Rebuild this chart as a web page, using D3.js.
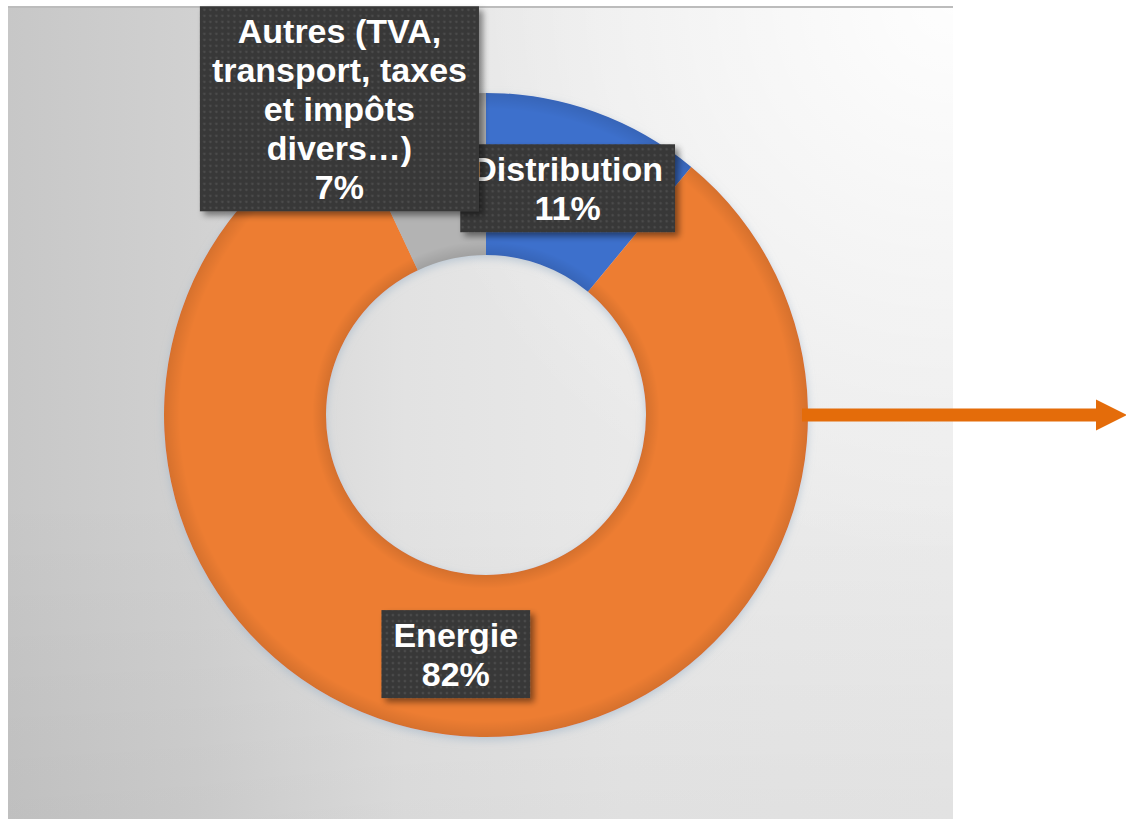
<!DOCTYPE html>
<html>
<head>
<meta charset="utf-8">
<script src="https://cdn.jsdelivr.net/npm/d3@7"></script>
<style>
  html, body { margin: 0; padding: 0; background: #fff; }
  #chart { display: block; }
  .lbl text { font-family: "Liberation Sans", Arial, sans-serif; font-weight: bold; font-size: 34px; fill: #fff; }
</style>
</head>
<body>
<svg id="chart" width="1126" height="819"></svg>
<script>
// data
const categories = ['Distribution', 'Energie', 'Autres'];
const shares = [11, 82, 7];
const labelLines = [
  ['Distribution'],
  ['Energie'],
  ['Autres (TVA,', 'transport, taxes', 'et impôts', 'divers…)']
];
const sliceColors = ['#3d6fcc', '#ed7d31', '#b3b3b3'];

const W = 1126, H = 819;
const cx = 486, cy = 415, rOuter = 322, rInner = 160;
// the "Autres" label was dragged away from its slice
const labelShift = { Autres: [-94, -71] };

const svg = d3.select('#chart');
const defs = svg.append('defs');

// background panel: grey on the left, light on the right, brightest top right
const bg = defs.append('linearGradient').attr('id', 'bgGrad')
  .attr('x1', 0).attr('x2', 1).attr('y1', 0).attr('y2', 0);
[[0, '#c7c7c7'], [0.2, '#d1d1d1'], [0.42, '#e2e2e2'], [0.65, '#e9e9e9'], [1, '#ebebeb']]
  .forEach(([o, c]) => bg.append('stop').attr('offset', o).attr('stop-color', c));
const hi = defs.append('radialGradient').attr('id', 'hiGrad')
  .attr('gradientUnits', 'userSpaceOnUse')
  .attr('cx', 953).attr('cy', 0).attr('r', 560);
hi.append('stop').attr('offset', 0).attr('stop-color', '#fff').attr('stop-opacity', 0.95);
hi.append('stop').attr('offset', 1).attr('stop-color', '#fff').attr('stop-opacity', 0);
const lo = defs.append('linearGradient').attr('id', 'loGrad')
  .attr('x1', 0).attr('x2', 0).attr('y1', 0).attr('y2', 1);
lo.append('stop').attr('offset', 0.6).attr('stop-color', '#000').attr('stop-opacity', 0);
lo.append('stop').attr('offset', 1).attr('stop-color', '#000').attr('stop-opacity', 0.04);

// dotted texture for label boxes
const pat = defs.append('pattern').attr('id', 'dots')
  .attr('width', 6).attr('height', 6).attr('patternUnits', 'userSpaceOnUse');
pat.append('rect').attr('width', 6).attr('height', 6).attr('fill', '#383838');
pat.append('circle').attr('cx', 3).attr('cy', 3).attr('r', 1.3).attr('fill', '#4b4b4b');

const sh = defs.append('filter').attr('id', 'shadow')
  .attr('x', -0.2).attr('y', -0.2).attr('width', 1.5).attr('height', 1.5);
sh.append('feDropShadow').attr('dx', 4).attr('dy', 4).attr('stdDeviation', 3)
  .attr('flood-color', '#000').attr('flood-opacity', 0.45);

const glow = defs.append('filter').attr('id', 'glow')
  .attr('x', -0.1).attr('y', -0.1).attr('width', 1.2).attr('height', 1.2);
glow.append('feDropShadow').attr('dx', 0).attr('dy', 3).attr('stdDeviation', 4)
  .attr('flood-color', '#9fb4c8').attr('flood-opacity', 0.6);

// ring bevel (darker at inner and outer rims)
const bevel = defs.append('radialGradient').attr('id', 'bevel')
  .attr('gradientUnits', 'userSpaceOnUse')
  .attr('cx', 0).attr('cy', 0).attr('r', rOuter);
[[0.49, 0.12], [0.54, 0], [0.95, 0], [1, 0.1]].forEach(([o, a]) =>
  bevel.append('stop').attr('offset', o).attr('stop-color', '#000').attr('stop-opacity', a));

// panel
svg.append('rect').attr('x', 8).attr('y', 6).attr('width', 945).attr('height', H - 6)
  .attr('fill', 'url(#bgGrad)');
svg.append('rect').attr('x', 8).attr('y', 6).attr('width', 945).attr('height', H - 6)
  .attr('fill', 'url(#hiGrad)');
svg.append('rect').attr('x', 8).attr('y', 6).attr('width', 945).attr('height', H - 6)
  .attr('fill', 'url(#loGrad)');
svg.append('rect').attr('x', 8).attr('y', 6).attr('width', 945).attr('height', 2)
  .attr('fill', '#bcbcbc');

// donut
const color = d3.scaleOrdinal().domain(categories).range(sliceColors);
const pie = d3.pie().sort(null).value(d => d.value);
const arcs = pie(categories.map((c, i) => ({ name: c, value: shares[i], lines: labelLines[i] })));
const arc = d3.arc().innerRadius(rInner).outerRadius(rOuter);

const g = svg.append('g').attr('transform', `translate(${cx},${cy})`);
g.append('g').attr('filter', 'url(#glow)')
  .selectAll('path').data(arcs).join('path')
  .attr('d', arc)
  .attr('fill', d => color(d.data.name));
g.append('path')
  .attr('d', arc({ startAngle: 0, endAngle: 2 * Math.PI }))
  .attr('fill', 'url(#bevel)');

// arrow
defs.append('marker').attr('id', 'head')
  .attr('viewBox', '0 0 10 10').attr('refX', 0).attr('refY', 5)
  .attr('markerWidth', 2.4).attr('markerHeight', 2.7).attr('markerUnits', 'strokeWidth')
  .attr('orient', 'auto')
  .append('path').attr('d', 'M0,0L10,5L0,10Z').attr('fill', '#e46c0a');
svg.append('line')
  .attr('x1', cx + rOuter - 6).attr('x2', 1096).attr('y1', cy).attr('y2', cy)
  .attr('stroke', '#e46c0a').attr('stroke-width', 13)
  .attr('marker-end', 'url(#head)');

// labels, in slice order so "Autres" ends up on top
const lineH = 39, padX = 12, padY = 5;
const labels = svg.append('g');
arcs.forEach(d => {
  const [lx, ly] = arc.centroid(d);
  const shift = labelShift[d.data.name] || [0, 0];
  const x = cx + lx + shift[0], y = cy + ly + shift[1];
  const lines = d.data.lines.concat([d.data.value + '%']);
  const lg = labels.append('g').attr('class', 'lbl').attr('transform', `translate(${x},${y})`);
  const box = lg.append('rect').attr('fill', 'url(#dots)').attr('filter', 'url(#shadow)');
  const h = lines.length * lineH + 2 * padY;
  const t = lg.append('text').attr('text-anchor', 'middle');
  lines.forEach((s, i) => {
    t.append('tspan').attr('x', 0)
      .attr('y', -h / 2 + padY + i * lineH + lineH / 2 + 12)
      .text(s);
  });
  let w = 0;
  t.selectAll('tspan').each(function () { w = Math.max(w, this.getComputedTextLength()); });
  w += 2 * padX;
  box.attr('x', -w / 2).attr('y', -h / 2).attr('width', w).attr('height', h);
});
</script>
</body>
</html>
